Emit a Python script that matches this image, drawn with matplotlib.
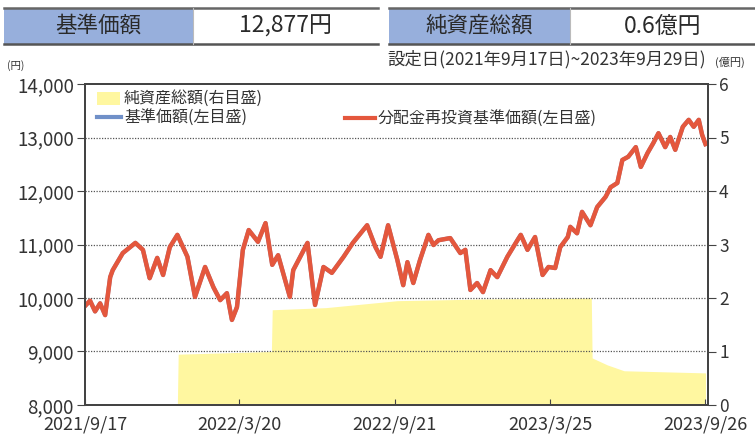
import matplotlib
matplotlib.use("Agg")
import matplotlib.pyplot as plt
from matplotlib.patches import Rectangle
import pandas as pd

plt.rcParams['font.family'] = ['Noto Sans CJK JP', 'DejaVu Sans']

# ---- data ----
nav_dates = ['2021-09-17', '2021-09-23', '2021-09-29', '2021-10-05', '2021-10-11', '2021-10-17',
             '2021-10-20', '2021-11-01', '2021-11-16', '2021-11-25', '2021-12-03', '2021-12-12',
             '2021-12-19', '2021-12-27', '2022-01-05', '2022-01-17', '2022-01-26', '2022-02-07',
             '2022-02-17', '2022-02-25', '2022-03-05', '2022-03-11', '2022-03-17', '2022-03-24',
             '2022-03-31', '2022-04-11', '2022-04-20', '2022-04-28', '2022-05-05', '2022-05-19',
             '2022-05-23', '2022-06-09', '2022-06-18', '2022-06-28', '2022-07-08', '2022-07-22',
             '2022-08-02', '2022-08-19', '2022-08-29', '2022-09-04', '2022-09-13', '2022-09-24',
             '2022-10-01', '2022-10-06', '2022-10-13', '2022-10-21', '2022-10-31', '2022-11-06',
             '2022-11-12', '2022-11-26', '2022-12-08', '2022-12-14', '2022-12-20', '2022-12-28',
             '2023-01-04', '2023-01-13', '2023-01-21', '2023-02-02', '2023-02-14', '2023-02-18',
             '2023-02-26', '2023-03-07', '2023-03-16', '2023-03-23', '2023-03-31', '2023-04-06',
             '2023-04-15', '2023-04-18', '2023-04-26', '2023-05-02', '2023-05-12', '2023-05-20',
             '2023-05-30', '2023-06-05', '2023-06-13', '2023-06-19', '2023-06-26', '2023-07-05',
             '2023-07-11', '2023-07-19', '2023-07-26', '2023-08-01', '2023-08-09', '2023-08-15',
             '2023-08-21', '2023-08-30', '2023-09-06', '2023-09-12', '2023-09-18', '2023-09-22',
             '2023-09-26']
nav_values = [9850, 9950, 9750, 9900, 9680, 10390,
              10520, 10840, 11030, 10900, 10370, 10750,
              10430, 10950, 11180, 10770, 10020, 10580,
              10200, 9960, 10090, 9590, 9830, 10900,
              11270, 11050, 11400, 10620, 10800, 10020,
              10520, 11030, 9870, 10580, 10470, 10770,
              11030, 11360, 10950, 10770, 11360, 10710,
              10240, 10670, 10280, 10710, 11180, 10990,
              11080, 11120, 10840, 10900, 10150, 10280,
              10110, 10520, 10390, 10770, 11080, 11180,
              10900, 11140, 10430, 10580, 10560, 10950,
              11140, 11330, 11210, 11610, 11360, 11700,
              11890, 12070, 12150, 12580, 12640, 12820,
              12450, 12710, 12900, 13080, 12820, 13010,
              12770, 13200, 13330, 13200, 13330, 13050,
              12877]

asset_dates = ['2021-09-17', '2022-01-05', '2022-01-06', '2022-04-27', '2022-04-28', '2022-07-01',
               '2022-09-24', '2023-01-01', '2023-05-13', '2023-05-14', '2023-06-01', '2023-06-21',
               '2023-09-26']
asset_values = [0.0, 0.0, 0.95, 1.0, 1.78, 1.82,
                1.95, 1.98, 2.0, 0.88, 0.75, 0.64,
                0.6]

tick_dates = ['2021-09-17', '2022-03-20', '2022-09-21', '2023-03-25', '2023-09-26']
tick_labels = ['2021/9/17', '2022/3/20', '2022/9/21', '2023/3/25', '2023/9/26']

nav = pd.Series(nav_values, index=pd.to_datetime(nav_dates))
assets = pd.Series(asset_values, index=pd.to_datetime(asset_dates))

dark = '#333333'
red = '#e4573d'
blue = '#7090c8'
yellow = '#fff7a0'
hdr_blue = '#97afdc'

fig = plt.figure(figsize=(7.55, 4.38), dpi=100)

# main chart: right axis (net assets) underneath, left axis (NAV) on top
ax2 = fig.add_axes([85 / 755, 1 - 405 / 438, 623 / 755, 321 / 438])
ax = ax2.twinx()
ax2.yaxis.tick_right()
ax.yaxis.tick_left()

ax2.fill_between(assets.index, assets.values, 0, color=yellow, lw=0)
ax2.set_ylim(0, 6)
ax2.set_yticks(range(0, 7))

ax.plot(nav.index, nav.values, color=blue, lw=3)
ax.plot(nav.index, nav.values, color=red, lw=3.2, solid_joinstyle='round')
ax.set_ylim(8000, 14000)
ax.set_yticks(range(8000, 14001, 1000))
ax.set_yticklabels([f'{v:,}' for v in range(8000, 14001, 1000)])
for v in range(9000, 14000, 1000):
    ax.axhline(v, color='#555555', lw=0.9, ls=(0, (1, 1.2)), zorder=0)

ax2.set_xlim(pd.Timestamp('2021-09-17'), pd.Timestamp('2023-09-29'))
ax2.set_xticks(pd.to_datetime(tick_dates))
ax2.set_xticklabels(tick_labels)

for a in (ax, ax2):
    for s in a.spines.values():
        s.set_color('#444444')
        s.set_linewidth(1.4)
ax2.tick_params(axis='x', direction='in', length=4, color='#444444', labelsize=13,
                labelcolor=dark, pad=7.5)
ax2.tick_params(axis='y', direction='out', length=6, color='#444444', labelsize=12.5,
                labelcolor=dark, pad=2)
ax.tick_params(axis='y', direction='out', length=6, color='#444444', labelsize=13.5,
               labelcolor=dark, pad=2)

# header boxes, notes and legend (pixel coords on an overlay axes)
hd = fig.add_axes([0, 0, 1, 1])
hd.set_xlim(0, 755)
hd.set_ylim(438, 0)
hd.axis('off')
for x0, x1, x2, lab, val in [(4, 193, 378, '基準価額', '12,877円'),
                             (389, 570, 755, '純資産総額', '0.6億円')]:
    hd.add_patch(Rectangle((x0, 8), x1 - x0, 36, fc=hdr_blue, ec='none'))
    hd.add_patch(Rectangle((x1, 8), x2 - x1, 36, fc='white', ec='none'))
    hd.plot([x0, x2], [8, 8], color='#666666', lw=1.8)
    hd.plot([x0, x2], [44, 44], color='#555555', lw=1.8)
    hd.plot([x1, x1], [8, 44], color='#bbbbbb', lw=0.8)
    hd.text((x0 + x1) / 2, 26, lab, ha='center', va='center', fontsize=15.5, color='#2a2a2a')
    hd.text((x1 + x2) / 2, 26, val, ha='center', va='center', fontsize=16.5, color='#2a2a2a')
hd.text(16, 66, '(円)', ha='center', va='center', fontsize=7.5, color=dark)
hd.text(706, 59, '設定日(2021年9月17日)~2023年9月29日)', ha='right', va='center',
        fontsize=12.5, color=dark)
hd.text(730, 62, '(億円)', ha='center', va='center', fontsize=8, color=dark)

hd.add_patch(Rectangle((97, 92), 23, 13, fc=yellow, ec='none'))
hd.text(124, 98, '純資産総額(右目盛)', va='center', fontsize=11.5, color=dark)
hd.plot([97, 121], [117, 117], color=blue, lw=3)
hd.text(124, 117, '基準価額(左目盛)', va='center', fontsize=11.5, color=dark)
hd.plot([345, 375], [118, 118], color=red, lw=3)
hd.text(378, 118, '分配金再投資基準価額(左目盛)', va='center', fontsize=11.5, color=dark)

fig.savefig('out.png', dpi=100)
